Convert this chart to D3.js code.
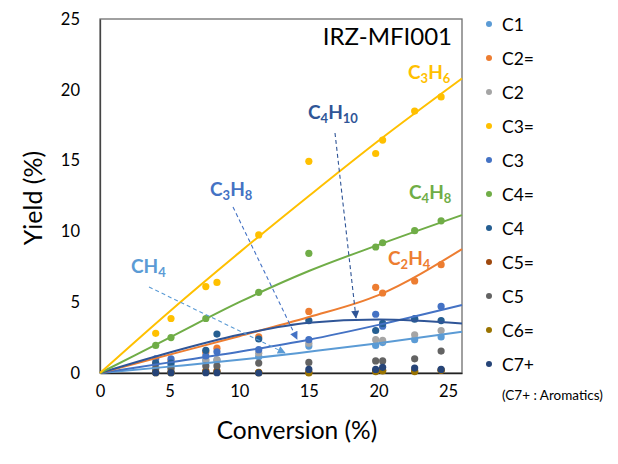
<!DOCTYPE html>
<html>
<head>
<meta charset="utf-8">
<script src="https://cdn.jsdelivr.net/npm/d3@7"></script>
<style>
  body { margin: 0; background: #fff; }
  text { font-family: Lato, "Open Sans", sans-serif; }
</style>
</head>
<body>
<div id="chart"></div>
<script>
// conversion (%) of each run
const conversion = [4.0, 5.1, 7.6, 8.4, 11.4, 15.0, 19.8, 20.3, 22.6, 24.5];

// yields (%) per product
const c1   = [0.45, 0.55, 0.85, 0.9, 1.15, 1.9, 1.95, 2.15, 2.35, 2.55];
const c2e  = [0.7, 0.85, 1.45, 1.75, 2.55, 4.35, 6.05, 5.65, 6.5, 7.65];
const c2   = [0.35, 0.4, 0.95, 0.95, 1.4, 2.1, 2.35, 2.3, 2.7, 3.0];
const c3e  = [2.8, 3.85, 6.1, 6.4, 9.75, 14.95, 15.5, 16.45, 18.5, 19.5];
const c3   = [1.0, 1.0, 1.2, 1.5, 1.65, 2.35, 4.15, 3.3, 3.85, 4.7];
const c4e  = [1.95, 2.5, 3.85, null, 5.7, 8.45, 8.9, 9.2, 10.05, 10.75];
const c4   = [0.7, 0.7, 1.6, 2.75, 2.4, 3.7, 3.0, 3.5, 3.8, 3.7];
const c5e  = [0.05, 0.05, 0.15, 0.15, 0.05, 0.05, 0.15, 0.2, 0.15, 0.2];
const c5   = [0.3, 0.3, 0.5, 0.5, 0.7, 0.75, 0.85, 0.85, 1.0, 1.55];
const c6e  = [0.02, 0.02, 0.05, 0.05, 0.02, 0.0, 0.1, 0.15, 0.1, 0.2];
const c7p  = [0.02, 0.02, 0.02, 0.02, 0.0, 0.25, 0.25, 0.4, 0.35, 0.25];

const seriesNames = ["C1", "C2=", "C2", "C3=", "C3", "C4=", "C4", "C5=", "C5", "C6=", "C7+"];
const seriesValues = [c1, c2e, c2, c3e, c3, c4e, c4, c5e, c5, c6e, c7p];
const seriesColors = ["#5B9BD5", "#ED7D31", "#A5A5A5", "#FFC000", "#4472C4", "#70AD47",
                      "#255E91", "#9E480E", "#636363", "#997300", "#264478"];

// trend lines
const trendX    = [0, 5, 10, 15, 20, 26];
const trendC3H6 = [0, 4.35, 8.5, 12.5, 16.4, 20.8];
const trendC4H8 = [0, 2.5, 5.0, 7.2, 9.05, 11.15];
const trendC2H4 = [0, 1.3, 2.6, 3.95, 5.5, 8.75];
const trendC4H10 = [0, 1.45, 2.7, 3.55, 3.78, 3.5];
const trendC3H8 = [0, 0.75, 1.5, 2.35, 3.4, 4.8];
const trendCH4  = [0, 0.45, 0.93, 1.5, 2.1, 2.92];

const xTicks = [0, 5, 10, 15, 20, 25];
const yTicks = [0, 5, 10, 15, 20, 25];

const W = 618, H = 464;
const svg = d3.select("#chart").append("svg").attr("width", W).attr("height", H);

const x = d3.scaleLinear().domain([0, 26]).range([100, 462]);
const y = d3.scaleLinear().domain([0, 25]).range([373, 19]);

// frame
svg.append("rect")
    .attr("x", 100).attr("y", 19)
    .attr("width", 362).attr("height", 354)
    .attr("fill", "none").attr("stroke", "#6e6e6e").attr("stroke-width", 1.3);

// axes
const xAxis = svg.append("g")
    .attr("transform", "translate(0,373)")
    .call(d3.axisBottom(x).tickValues(xTicks).tickSize(0).tickPadding(12));
xAxis.select(".domain").attr("stroke", "#222").attr("stroke-width", 1.5);
xAxis.selectAll("text").attr("font-size", 16.5).attr("fill", "#000")
    .style("font-family", "Lato, sans-serif");

const yAxis = svg.append("g")
    .attr("transform", "translate(100,0)")
    .call(d3.axisLeft(y).tickValues(yTicks).tickSize(0).tickPadding(20));
yAxis.select(".domain").attr("stroke", "#444").attr("stroke-width", 1.3);
yAxis.selectAll("text").attr("font-size", 16.5).attr("fill", "#000")
    .style("font-family", "Lato, sans-serif");

// points
seriesValues.forEach((vals, i) => {
    svg.append("g")
        .selectAll("circle")
        .data(conversion.map((c, j) => ({ c, v: vals[j] })).filter(d => d.v !== null))
        .join("circle")
        .attr("cx", d => x(d.c))
        .attr("cy", d => y(d.v))
        .attr("r", 3.6)
        .attr("fill", seriesColors[i]);
});

// trend lines
const line = d3.line().x(d => x(d[0])).y(d => y(d[1])).curve(d3.curveMonotoneX);
const trends = [
    [trendCH4, "#5B9BD5"],
    [trendC3H8, "#4472C4"],
    [trendC2H4, "#ED7D31"],
    [trendC4H10, "#2F5597"],
    [trendC4H8, "#70AD47"],
    [trendC3H6, "#FFC000"]
];
trends.forEach(([vals, col]) => {
    svg.append("path")
        .datum(trendX.map((t, j) => [t, vals[j]]))
        .attr("d", line)
        .attr("fill", "none")
        .attr("stroke", col)
        .attr("stroke-width", 2);
});

// dashed arrows
const defs = svg.append("defs");
function arrow(id, col, x1, y1, x2, y2) {
    defs.append("marker")
        .attr("id", id)
        .attr("viewBox", "0 0 10 10")
        .attr("refX", 9).attr("refY", 5)
        .attr("markerWidth", 10).attr("markerHeight", 8)
        .attr("markerUnits", "userSpaceOnUse")
        .attr("orient", "auto")
        .append("path").attr("d", "M0,0L10,5L0,10Z").attr("fill", col);
    svg.append("line")
        .attr("x1", x1).attr("y1", y1).attr("x2", x2).attr("y2", y2)
        .attr("stroke", col).attr("stroke-width", 1.1)
        .attr("stroke-dasharray", "4,3")
        .attr("marker-end", `url(#${id})`);
}
arrow("aCH4", "#5B9BD5", 149, 287, 285, 353);
arrow("aC3H8", "#4472C4", 233, 207, 297, 339);
arrow("aC4H10", "#2F5597", 335, 133, 356, 318);

// chemical labels with subscripts
function chem(xp, yp, col, parts) {
    const t = svg.append("text")
        .attr("x", xp).attr("y", yp)
        .attr("fill", col)
        .attr("font-weight", "bold")
        .attr("font-size", 19);
    let shifted = false;
    parts.forEach(([s, sub]) => {
        let dy = 0;
        if (sub && !shifted) { dy = 4; shifted = true; }
        else if (!sub && shifted) { dy = -4; shifted = false; }
        t.append("tspan")
            .attr("font-size", sub ? 13 : 19)
            .attr("dy", dy)
            .text(s);
    });
}
chem(408, 79, "#FFC000", [["C"], ["3", true], ["H"], ["6", true]]);
chem(409, 199, "#70AD47", [["C"], ["4", true], ["H"], ["8", true]]);
chem(388, 265, "#ED7D31", [["C"], ["2", true], ["H"], ["4", true]]);
chem(308, 119, "#2F5597", [["C"], ["4", true], ["H"], ["10", true]]);
chem(210, 196, "#4472C4", [["C"], ["3", true], ["H"], ["8", true]]);
chem(131, 273, "#5B9BD5", [["CH"], ["4", true]]);

// title inside plot
svg.append("text")
    .attr("x", 452).attr("y", 45)
    .attr("text-anchor", "end")
    .attr("font-size", 24)
    .attr("fill", "#000")
    .text("IRZ-MFI001");

// axis titles
svg.append("text")
    .attr("x", 297).attr("y", 439)
    .attr("text-anchor", "middle")
    .attr("font-size", 24.5)
    .text("Conversion (%)");
svg.append("text")
    .attr("transform", "translate(42,198) rotate(-90)")
    .attr("text-anchor", "middle")
    .attr("font-size", 25)
    .text("Yield (%)");

// legend
const legend = svg.append("g");
seriesNames.forEach((name, i) => {
    const ly = 24 + i * 34;
    legend.append("circle")
        .attr("cx", 489).attr("cy", ly).attr("r", 3)
        .attr("fill", seriesColors[i]);
    legend.append("text")
        .attr("x", 502).attr("y", ly + 6.5)
        .attr("font-size", 17.5)
        .attr("fill", "#000")
        .text(name);
});
legend.append("text")
    .attr("x", 502).attr("y", 400)
    .attr("font-size", 13.5)
    .attr("fill", "#000")
    .text("(C7+ : Aromatics)");
</script>
</body>
</html>
